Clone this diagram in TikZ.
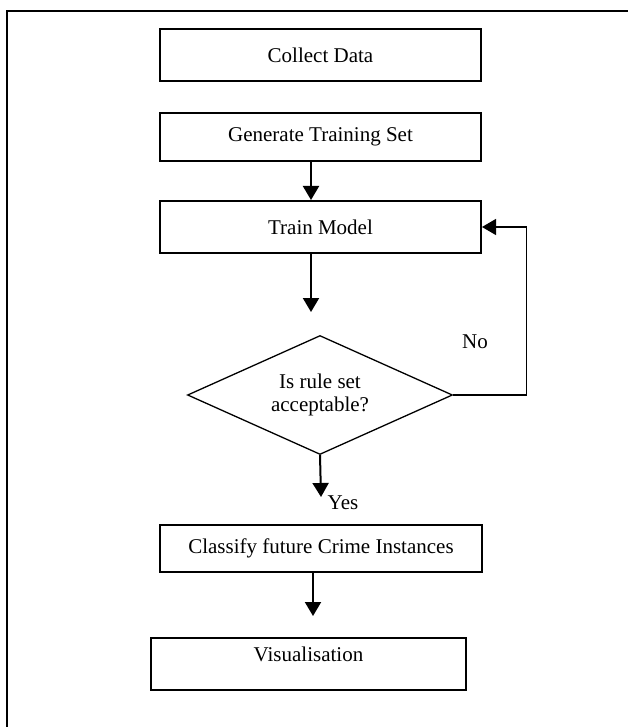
\documentclass[tikz,border=0pt]{standalone}
\usepackage{fontspec}
\setmainfont{Liberation Serif}
\usetikzlibrary{arrows.meta,shapes.geometric}

\begin{document}
\begin{tikzpicture}[x=1pt,y=-1pt,
  box/.style={draw,line width=2pt,inner sep=0pt,minimum width=321pt,font=\fontsize{21}{23}\selectfont},
  arr/.style={line width=2pt,-{Triangle[width=16pt,length=14pt]}},
  lbl/.style={inner sep=0pt,font=\fontsize{21}{23}\selectfont}]
  \useasboundingbox (0,0) rectangle (628,727);
  % frame
  \draw[line width=1.3pt] (7,727) -- (7,11) -- (628,11);
  % boxes
  \node[box,minimum height=52pt] (collect) at (320.5,55) {Collect Data};
  \node[box,minimum height=48pt] (generate) at (320.5,137) {Generate Training Set};
  \node[box,minimum height=52pt] (train) at (320.5,227) {Train Model};
  \node[draw,diamond,line width=1.3pt,inner sep=0pt,aspect=2.2,minimum width=265pt,minimum height=119pt,
        align=center,font=\fontsize{21}{23}\selectfont] (decide) at (320,395) {Is rule set\\acceptable?};
  \node[box,line width=1.3pt,minimum width=322pt,minimum height=47pt] (classify) at (321,548.5) {Classify future Crime Instances};
  \node[box,minimum width=315pt,minimum height=52pt,text depth=19pt] (visual) at (308.5,664) {Visualisation};
  % free arrow ends
  \coordinate (t1) at (311,312);
  \coordinate (t2) at (321,497);
  \coordinate (t3) at (313,616);
  % connectors
  \draw[arr] (generate.south -| t1) -- (train.north -| t1);
  \draw[arr] (train.south -| t1) -- (t1);
  \draw[arr] (decide.south) -- (t2);
  \draw[arr] (classify.south -| t3) -- (t3);
  \draw[arr,line width=1.3pt] (decide.east) -- ++(73,0) |- (train.east);
  % labels
  \node[lbl] (no) at (475,342) {No};
  \node[lbl] (yes) at (343,503) {Yes};
\end{tikzpicture}
\end{document}
